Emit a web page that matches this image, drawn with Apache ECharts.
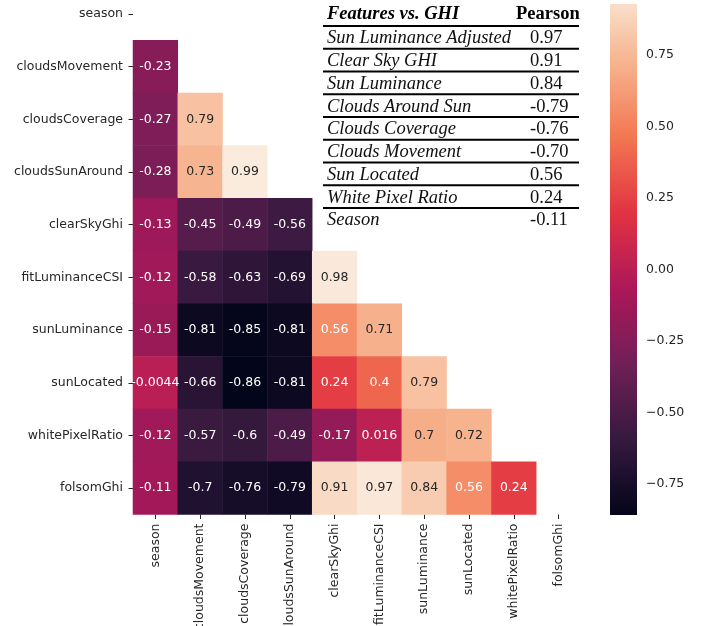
<!DOCTYPE html>
<html><head><meta charset="utf-8">
<script src="https://cdn.jsdelivr.net/npm/echarts@6/dist/echarts.min.js"></script>
<style>html,body{margin:0;padding:0;background:#fff}#c{width:704px;height:626px}</style>
</head><body><div id="c"></div>
<script>
// ---- data ----
const features = ['season','cloudsMovement','cloudsCoverage','cloudsSunAround','clearSkyGhi','fitLuminanceCSI','sunLuminance','sunLocated','whitePixelRatio','folsomGhi'];
const rowSeason = [];
const rowCloudsMovement = [-0.23];
const rowCloudsCoverage = [-0.27, 0.79];
const rowCloudsSunAround = [-0.28, 0.73, 0.99];
const rowClearSkyGhi = [-0.13, -0.45, -0.49, -0.56];
const rowFitLuminanceCSI = [-0.12, -0.58, -0.63, -0.69, 0.98];
const rowSunLuminance = [-0.15, -0.81, -0.85, -0.81, 0.56, 0.71];
const rowSunLocated = [-0.0044, -0.66, -0.86, -0.81, 0.24, 0.4, 0.79];
const rowWhitePixelRatio = [-0.12, -0.57, -0.6, -0.49, -0.17, 0.016, 0.7, 0.72];
const rowFolsomGhi = [-0.11, -0.7, -0.76, -0.79, 0.91, 0.97, 0.84, 0.56, 0.24];
const lowerRows = [rowSeason, rowCloudsMovement, rowCloudsCoverage, rowCloudsSunAround, rowClearSkyGhi,
  rowFitLuminanceCSI, rowSunLuminance, rowSunLocated, rowWhitePixelRatio, rowFolsomGhi];
const colorbarTicks = [-0.75, -0.5, -0.25, 0, 0.25, 0.5, 0.75];
const valueMin = -0.86, valueMax = 0.99;
const colorbarMin = -0.858, colorbarMax = 0.928;
const tableHeader = ['Features vs. GHI', 'Pearson'];
const tableFeatures = ['Sun Luminance Adjusted','Clear Sky GHI','Sun Luminance','Clouds Around Sun','Clouds Coverage','Clouds Movement','Sun Located','White Pixel Ratio','Season'];
const tablePearson = ['0.97','0.91','0.84','-0.79','-0.76','-0.70','0.56','0.24','-0.11'];

// ---- colormap (rocket) ----
const rocketStops = ['#03051A','#35193E','#701F57','#AD1759','#E13342','#F37651','#F6B48F','#FAEBDD'];
function hexRgb(h){return [parseInt(h.slice(1,3),16),parseInt(h.slice(3,5),16),parseInt(h.slice(5,7),16)];}
function rocket(v){
  let t = (v - valueMin) / (valueMax - valueMin); t = Math.max(0, Math.min(1, t));
  const n = rocketStops.length - 1; const f = t * n; let i = Math.floor(f); if (i >= n) i = n - 1;
  const u = f - i; const a = hexRgb(rocketStops[i]), b = hexRgb(rocketStops[i+1]);
  const c = a.map((x,k)=>Math.round(x + (b[k]-x)*u));
  return 'rgb(' + c.join(',') + ')';
}
function lum(rgbStr){
  const c = rgbStr.match(/\d+/g).map(Number).map(x=>{x/=255;return x<=0.03928?x/12.92:Math.pow((x+0.055)/1.055,2.4);});
  return 0.2126*c[0]+0.7152*c[1]+0.0722*c[2];
}
function fmt2g(v){ return String(Number(v.toPrecision(2))); }

const heatData = [];
lowerRows.forEach((row, i) => row.forEach((v, j) => {
  heatData.push({value: [j, i, v], label: {color: lum(rocket(v)) > 0.408 ? '#262626' : '#ffffff'}});
}));

const FONT = 'DejaVu Sans';
const TXT = '#262626';
const SERIF = '"Liberation Serif", "Times New Roman", serif';

// table graphics
const graphics = [];
const tLeft = 327, tNumX = 530, lineX1 = 323, lineX2 = 579, headerY = 14, firstLineY = 26, rowH = 22.75;
graphics.push({type:'text', x: tLeft, y: headerY, style:{text: tableHeader[0], font: 'italic bold 18.5px ' + SERIF, fill:'#000', textVerticalAlign:'middle'}});
graphics.push({type:'text', x: 516, y: headerY, style:{text: tableHeader[1], font: 'bold 18.5px ' + SERIF, fill:'#000', textVerticalAlign:'middle'}});
tableFeatures.forEach((name, i) => {
  const lineY = firstLineY + i * rowH;
  graphics.push({type:'line', shape:{x1: lineX1, y1: lineY, x2: lineX2, y2: lineY}, style:{stroke:'#000', lineWidth: 2}});
  const cy = lineY + 12.5;
  graphics.push({type:'text', x: tLeft, y: cy, style:{text: name, font: 'italic 18.5px ' + SERIF, fill:'#111', textVerticalAlign:'middle'}});
  graphics.push({type:'text', x: tNumX, y: cy, style:{text: tablePearson[i], font: '18.5px ' + SERIF, fill:'#111', textVerticalAlign:'middle'}});
});

const chart = echarts.init(document.getElementById('c'), null, {renderer:'canvas'});
chart.setOption({
  animation: false,
  backgroundColor: '#ffffff',
  grid: [
    {left: 133, top: -12.5, width: 448, height: 527, outerBoundsMode: 'none', containLabel: false},
    {left: 610, top: 4, width: 27, height: 511, outerBoundsMode: 'none', containLabel: false}
  ],
  xAxis: [
    {type:'category', gridIndex:0, data: features, position:'bottom',
     axisLine:{show:false}, splitLine:{show:false},
     axisTick:{show:true, alignWithLabel:true, length:4.5, lineStyle:{color:TXT, width:1}},
     axisLabel:{rotate:90, margin:9, fontSize:12.5, fontFamily:FONT, color:TXT, interval:0}},
    {type:'value', gridIndex:1, min:0, max:1, show:false}
  ],
  yAxis: [
    {type:'category', gridIndex:0, data: features, inverse:true,
     axisLine:{show:false}, splitLine:{show:false},
     axisTick:{show:true, alignWithLabel:true, length:4.5, lineStyle:{color:TXT, width:1}},
     axisLabel:{margin:10, fontSize:12.5, fontFamily:FONT, color:TXT, interval:0}},
    {type:'value', gridIndex:1, min:colorbarMin, max:colorbarMax, position:'right',
     axisLine:{show:false}, splitLine:{show:false},
     axisTick:{show:true, customValues: colorbarTicks, length:4, lineStyle:{color:TXT, width:1}},
     axisLabel:{customValues: colorbarTicks, margin:9, fontSize:12.5, fontFamily:FONT, color:TXT,
       formatter: v => v.toFixed(2).replace('-', '\u2212')}}
  ],
  visualMap: {type:'continuous', show:false, min:valueMin, max:valueMax, dimension:2, seriesIndex:0,
    inRange:{color: rocketStops}},
  series: [
    {type:'heatmap', xAxisIndex:0, yAxisIndex:0, data: heatData,
     label:{show:true, fontSize:12.5, fontFamily:FONT, formatter: p => fmt2g(p.value[2])},
     itemStyle:{borderWidth:0}, emphasis:{disabled:true}},
    {type:'custom', xAxisIndex:1, yAxisIndex:1, data:[[0, 0]], silent:true,
     renderItem: function(params, api){
       const p0 = api.coord([0, colorbarMin]); const p1 = api.coord([1, colorbarMax]);
       const stops = [];
       for (let i = 0; i <= 60; i++) { const t = i/60; stops.push({offset:t, color: rocket(colorbarMin + t*(colorbarMax-colorbarMin))}); }
       return {type:'rect', shape:{x:p0[0], y:p1[1], width:p1[0]-p0[0], height:p0[1]-p1[1]},
         style:{fill: new echarts.graphic.LinearGradient(0, 1, 0, 0, stops)}};
     }}
  ],
  graphic: graphics
});
</script></body></html>
